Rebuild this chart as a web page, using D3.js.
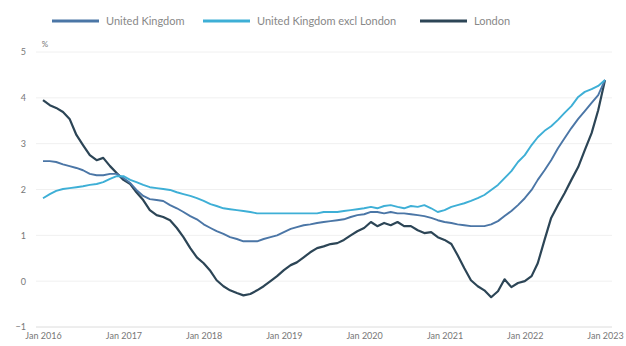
<!DOCTYPE html>
<html><head><meta charset="utf-8">
<script src="https://cdn.jsdelivr.net/npm/d3@7"></script>
<style>body{margin:0;background:#fff;}svg{display:block;font-family:Lato,"Open Sans",sans-serif;}</style>
</head><body><svg id="c" width="626" height="346"></svg>
<script>
const seriesNames = ["United Kingdom", "United Kingdom excl London", "London"];
const startMonth = new Date(2016, 0, 1);
const ukValues = [2.62,2.62,2.60,2.55,2.51,2.47,2.42,2.34,2.31,2.31,2.34,2.34,
 2.25,2.14,1.99,1.86,1.79,1.77,1.75,1.66,1.59,1.51,1.42,1.35,
 1.24,1.16,1.09,1.03,0.96,0.92,0.87,0.87,0.87,0.92,0.96,1.00,
 1.07,1.14,1.18,1.22,1.24,1.27,1.29,1.31,1.33,1.35,1.40,1.44,
 1.46,1.51,1.51,1.48,1.51,1.48,1.48,1.46,1.44,1.42,1.38,1.33,
 1.29,1.27,1.24,1.22,1.20,1.20,1.20,1.24,1.31,1.42,1.53,1.66,
 1.81,1.99,2.21,2.42,2.64,2.90,3.12,3.34,3.54,3.71,3.89,4.06,4.39];
const ukExLondonValues = [1.81,1.90,1.97,2.01,2.03,2.05,2.07,2.10,2.12,2.16,2.23,2.29,
 2.29,2.21,2.16,2.10,2.05,2.03,2.01,1.99,1.94,1.90,1.86,1.81,
 1.75,1.68,1.64,1.59,1.57,1.55,1.53,1.51,1.48,1.48,1.48,1.48,
 1.48,1.48,1.48,1.48,1.48,1.48,1.51,1.51,1.51,1.53,1.55,1.57,
 1.59,1.62,1.59,1.64,1.66,1.62,1.59,1.64,1.62,1.66,1.59,1.51,
 1.55,1.62,1.66,1.70,1.75,1.81,1.88,1.99,2.10,2.25,2.40,2.60,
 2.75,2.97,3.14,3.28,3.38,3.52,3.67,3.82,4.02,4.13,4.19,4.26,4.39];
const londonValues = [3.95,3.84,3.78,3.69,3.54,3.19,2.97,2.75,2.64,2.69,2.51,2.36,
 2.21,2.12,1.94,1.77,1.55,1.44,1.40,1.33,1.16,0.96,0.72,0.52,
 0.39,0.22,0.02,-0.11,-0.20,-0.26,-0.31,-0.28,-0.20,-0.11,0.00,0.11,
 0.24,0.35,0.41,0.52,0.63,0.72,0.76,0.81,0.83,0.90,1.00,1.09,
 1.16,1.29,1.20,1.27,1.22,1.29,1.20,1.20,1.11,1.05,1.07,0.96,
 0.90,0.81,0.57,0.28,0.02,-0.11,-0.20,-0.35,-0.22,0.04,-0.13,-0.04,
 0.00,0.11,0.39,0.90,1.38,1.66,1.92,2.21,2.49,2.86,3.23,3.73,4.39];
const yTicks = [-1,0,1,2,3,4,5];
const xTickLabels = ["Jan 2016","Jan 2017","Jan 2018","Jan 2019","Jan 2020","Jan 2021","Jan 2022","Jan 2023"];
const colors = ["#4b76a6", "#3eafd6", "#2c4556"];

const svg = d3.select("#c");
const dateOf = i => d3.timeMonth.offset(startMonth, i);
const x = d3.scaleTime().domain([startMonth, dateOf(84)]).range([43, 605]);
const y = d3.scaleLinear().domain([-1, 5]).range([327, 52]);

// grid
svg.append("g").selectAll("line").data(yTicks).join("line")
  .attr("x1", 36).attr("x2", 612)
  .attr("y1", d => y(d)).attr("y2", d => y(d))
  .attr("stroke", d => d === -1 ? "#dcdcdc" : "#f0f0f0").attr("stroke-width", 1);

// y axis labels
const yAxis = d3.axisLeft(y).tickValues(yTicks).tickSize(0).tickPadding(0).tickFormat(d3.format("d"));
const gy = svg.append("g").attr("transform", "translate(26,0)").call(yAxis);
gy.select(".domain").remove();
gy.selectAll("text").attr("fill", "#777").attr("font-size", 9).attr("font-family", "Lato, sans-serif");
svg.append("text").attr("x", 45).attr("y", 47).attr("text-anchor", "middle")
  .attr("fill", "#777").attr("font-size", 8).text("%");

// x axis labels
const xAxis = d3.axisBottom(x).tickValues(xTickLabels.map((_, i) => dateOf(i * 12)))
  .tickSize(0).tickPadding(0).tickFormat((d, i) => xTickLabels[i]);
const gx = svg.append("g").attr("transform", "translate(0,333)").call(xAxis);
gx.select(".domain").remove();
gx.selectAll("text").attr("fill", "#777").attr("font-size", 9).attr("font-family", "Lato, sans-serif");

// lines
const allSeries = [ukValues, ukExLondonValues, londonValues];
const line = d3.line().x((d, i) => x(dateOf(i))).y(d => y(d)).curve(d3.curveLinear);
const drawOrder = [2, 0, 1];
drawOrder.forEach(k => {
  svg.append("path").datum(allSeries[k]).attr("d", line)
    .attr("fill", "none").attr("stroke", colors[k])
    .attr("stroke-width", k === 2 ? 2.2 : 1.9).attr("stroke-linejoin", "round");
});

// legend
const legendX = [52, 203, 420];
const lg = svg.append("g");
seriesNames.forEach((n, k) => {
  lg.append("line").attr("x1", legendX[k]).attr("x2", legendX[k] + 47)
    .attr("y1", 21).attr("y2", 21).attr("stroke", colors[k]).attr("stroke-width", 3);
  lg.append("text").attr("x", legendX[k] + 54).attr("y", 25)
    .attr("fill", "#888").attr("font-size", 11).text(n);
});
</script></body></html>
